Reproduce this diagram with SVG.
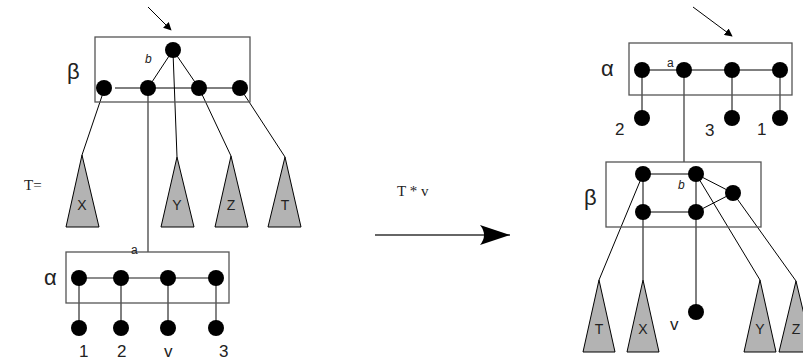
<svg xmlns="http://www.w3.org/2000/svg" width="803" height="360" viewBox="0 0 803 360">
<style>
.box{fill:none;stroke:#555;stroke-width:1.3}
.n{fill:#000}
.e{stroke:#000;stroke-width:1;fill:none}
.g{stroke:#666;stroke-width:1.6;fill:none}
.tri{fill:#b3b3b3;stroke:#000;stroke-width:1}
.s{font-family:"Liberation Sans",Arial,sans-serif;fill:#222}
.big{font-size:22px}
.lab{font-size:17px}
.tl{font-size:14px;text-anchor:middle}
.sm{font-size:12px}
.serif{font-family:"Liberation Serif","Times New Roman",serif;font-size:15px;fill:#222}
</style>
<defs>
<marker id="ah" viewBox="0 0 10 10" refX="9" refY="5" markerWidth="8" markerHeight="8" orient="auto" markerUnits="userSpaceOnUse"><path d="M0,0 L10,5 L0,10 Z" fill="#000"/></marker>
<marker id="bigah" viewBox="0 0 30 20" refX="30" refY="10" markerWidth="30" markerHeight="20" orient="auto" markerUnits="userSpaceOnUse"><path d="M0,0 L30,10 L0,20 Q8,10 0,0 Z" fill="#000"/></marker>
</defs>

<g id="connectors">
<line class="e" x1="148" y1="7" x2="171" y2="30" marker-end="url(#ah)"/>
<line class="e" x1="115" y1="88" x2="240" y2="88"/>
<line class="e" x1="173" y1="50" x2="148" y2="88"/>
<line class="e" x1="173" y1="50" x2="199" y2="88"/>
<line class="e" x1="104" y1="90" x2="82" y2="155"/>
<line class="g" x1="148" y1="88" x2="148" y2="252"/>
<line class="e" x1="173" y1="52" x2="177" y2="157"/>
<line class="e" x1="199" y1="88" x2="231" y2="156"/>
<line class="e" x1="240" y1="88" x2="285" y2="157"/>
<line class="g" x1="79" y1="278" x2="216" y2="278"/>
<line class="e" x1="79" y1="278" x2="79" y2="328"/>
<line class="e" x1="121" y1="278" x2="121" y2="328"/>
<line class="e" x1="168" y1="278" x2="168" y2="328"/>
<line class="g" x1="216" y1="278" x2="216" y2="328"/>
<line x1="375" y1="235" x2="510" y2="235" stroke="#333" stroke-width="1.3" marker-end="url(#bigah)"/>
<line class="e" x1="693" y1="7" x2="732" y2="36" marker-end="url(#ah)"/>
<line class="e" x1="642" y1="70" x2="780" y2="70"/>
<line class="e" x1="642" y1="70" x2="642" y2="118"/>
<line class="e" x1="732" y1="70" x2="732" y2="118"/>
<line class="g" x1="780" y1="70" x2="780" y2="118"/>
<line class="g" x1="684" y1="70" x2="684" y2="162"/>
<line class="e" x1="643" y1="174" x2="696" y2="174"/>
<line class="e" x1="643" y1="212" x2="696" y2="212"/>
<line class="e" x1="643" y1="174" x2="643" y2="212"/>
<line class="e" x1="696" y1="174" x2="696" y2="212"/>
<line class="e" x1="696" y1="174" x2="733" y2="193"/>
<line class="e" x1="696" y1="212" x2="733" y2="193"/>
<line class="e" x1="643" y1="174" x2="599" y2="280"/>
<line class="e" x1="643" y1="212" x2="643" y2="280"/>
<line class="e" x1="696" y1="212" x2="696" y2="312"/>
<line class="e" x1="696" y1="174" x2="760" y2="280"/>
<line class="e" x1="733" y1="193" x2="796" y2="281"/>
</g>

<text class="serif" x="24" y="190">T=</text>
<text class="serif" x="397" y="196">T * v</text>

<g id="beta-left">
<rect class="box" x="95" y="37" width="155" height="65"/>
<text class="s big" x="67" y="79">β</text>
<text class="s sm" x="145" y="63" font-style="italic">b</text>
<circle class="n" cx="173" cy="50" r="8"/>
<circle class="n" cx="104" cy="88" r="8"/>
<circle class="n" cx="148" cy="88" r="8"/>
<circle class="n" cx="199" cy="88" r="8"/>
<circle class="n" cx="240" cy="88" r="8"/>
</g>

<g id="tri-X-left"><polygon class="tri" points="82,155 66,227 99,227"/><text class="s tl" x="82" y="210">X</text></g>
<g id="tri-Y-left"><polygon class="tri" points="177,157 161,227 194,227"/><text class="s tl" x="177" y="210">Y</text></g>
<g id="tri-Z-left"><polygon class="tri" points="231,156 215,227 248,227"/><text class="s tl" x="231" y="210">Z</text></g>
<g id="tri-T-left"><polygon class="tri" points="285,157 268,227 301,227"/><text class="s tl" x="285" y="210">T</text></g>

<g id="alpha-left">
<rect class="box" x="66" y="252" width="163" height="51"/>
<text class="s big" x="44" y="285">α</text>
<text class="s sm" x="131" y="254">a</text>
<circle class="n" cx="79" cy="278" r="8"/>
<circle class="n" cx="121" cy="278" r="8"/>
<circle class="n" cx="168" cy="278" r="8"/>
<circle class="n" cx="216" cy="278" r="8"/>
</g>
<g id="leaf-1"><circle class="n" cx="79" cy="328" r="8"/><text class="s lab" x="79" y="357">1</text></g>
<g id="leaf-2"><circle class="n" cx="121" cy="328" r="8"/><text class="s lab" x="117" y="357">2</text></g>
<g id="leaf-v"><circle class="n" cx="168" cy="328" r="8"/><text class="s lab" x="164" y="357">v</text></g>
<g id="leaf-3"><circle class="n" cx="216" cy="328" r="8"/><text class="s lab" x="219" y="357">3</text></g>

<g id="alpha-right">
<rect class="box" x="629" y="43" width="163" height="52"/>
<text class="s big" x="601" y="76">α</text>
<text class="s sm" x="667" y="67">a</text>
<circle class="n" cx="642" cy="70" r="8"/>
<circle class="n" cx="684" cy="70" r="8"/>
<circle class="n" cx="732" cy="70" r="8"/>
<circle class="n" cx="780" cy="70" r="8"/>
</g>
<g id="leaf-2r"><circle class="n" cx="642" cy="118" r="8"/><text class="s lab" x="615" y="135">2</text></g>
<g id="leaf-3r"><circle class="n" cx="732" cy="118" r="8"/><text class="s lab" x="705" y="136">3</text></g>
<g id="leaf-1r"><circle class="n" cx="780" cy="118" r="8"/><text class="s lab" x="757" y="135">1</text></g>

<g id="beta-right">
<rect class="box" x="606" y="162" width="155" height="65"/>
<text class="s big" x="584" y="205">β</text>
<text class="s sm" x="678" y="189" font-style="italic">b</text>
<circle class="n" cx="643" cy="174" r="8"/>
<circle class="n" cx="696" cy="174" r="8"/>
<circle class="n" cx="643" cy="212" r="8"/>
<circle class="n" cx="696" cy="212" r="8"/>
<circle class="n" cx="733" cy="193" r="8"/>
</g>
<g id="leaf-vr"><circle class="n" cx="696" cy="312" r="8"/><text class="s lab" x="670" y="330">v</text></g>

<g id="tri-T-right"><polygon class="tri" points="599,280 583,352 615,352"/><text class="s tl" x="599" y="334">T</text></g>
<g id="tri-X-right"><polygon class="tri" points="643,280 627,352 659,352"/><text class="s tl" x="643" y="334">X</text></g>
<g id="tri-Y-right"><polygon class="tri" points="760,280 744,352 776,352"/><text class="s tl" x="760" y="334">Y</text></g>
<g id="tri-Z-right"><polygon class="tri" points="796,281 779,352 813,352"/><text class="s tl" x="796" y="334">Z</text></g>
</svg>
